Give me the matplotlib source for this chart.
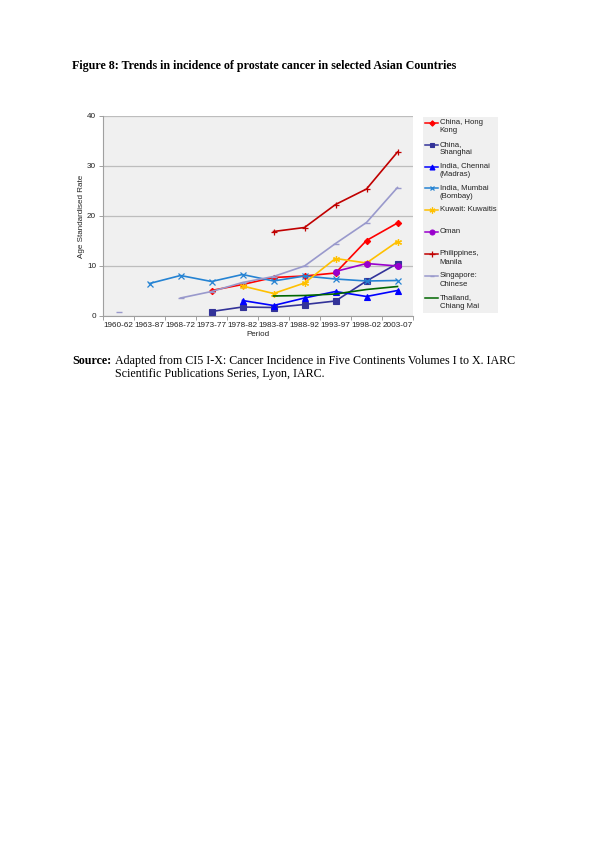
import numpy as np
import matplotlib
matplotlib.use("Agg")
import matplotlib.pyplot as plt
from matplotlib.lines import Line2D
from matplotlib.patches import Rectangle

periods = ["1960-62", "1963-87", "1968-72", "1973-77", "1978-82",
           "1983-87", "1988-92", "1993-97", "1998-02", "2003-07"]
N = np.nan
hong_kong   = [N, N, N, 5.1, 6.3, 7.7, 8.0, 8.6, 15.1, 18.6]
shanghai    = [N, N, N, 0.9, 1.8, 1.7, 2.3, 3.0, 7.0, 10.5]
chennai     = [N, N, N, N, 3.1, 2.1, 3.6, 4.9, 3.9, 5.1]
mumbai      = [N, 6.5, 8.1, 6.9, 8.3, 7.0, 8.0, 7.4, 7.0, 7.1]
kuwait      = [N, N, N, N, 6.0, 4.5, 6.6, 11.5, 10.6, 14.9]
oman        = [N, N, N, N, N, N, N, 8.9, 10.5, 10.0]
manila      = [N, N, N, N, N, 16.9, 17.7, 22.3, 25.4, 32.8]
singapore   = [0.9, N, 3.6, 4.9, 6.7, 7.9, 10.0, 14.5, 18.7, 25.7]
chiang_mai  = [N, N, N, N, N, 4.0, 4.1, 4.4, 5.3, 5.9]

series_labels = ["China, Hong\nKong", "China,\nShanghai", "India, Chennai\n(Madras)",
                 "India, Mumbai\n(Bombay)", "Kuwait: Kuwaitis", "Oman",
                 "Philippines,\nManila", "Singapore:\nChinese", "Thailand,\nChiang Mai"]
series_values = [hong_kong, shanghai, chennai, mumbai, kuwait, oman, manila, singapore, chiang_mai]
styles = [
    dict(color="#FF0000", marker="D", ms=3.2),
    dict(color="#333399", marker="s", ms=4.2),
    dict(color="#0000FF", marker="^", ms=4.2),
    dict(color="#2583D3", marker="x", ms=4.0, mew=0.9),
    dict(color="#FFC000", marker=(6, 2, 0), ms=5.0, mew=0.9),
    dict(color="#9900CC", marker="o", ms=4.2),
    dict(color="#C00000", marker="+", ms=5.0, mew=0.9),
    dict(color="#9999CC", marker="_", ms=4.0, mew=1.0),
    dict(color="#006600", marker=None, ms=0),
]

W, H = 600, 849
fig = plt.figure(figsize=(W / 100, H / 100), dpi=100)
fig.patch.set_facecolor("white")

# main axes in pixel layout
x0, x1, yt, yb = 103, 413, 116, 316
ax = fig.add_axes([x0 / W, 1 - yb / H, (x1 - x0) / W, (yb - yt) / H])
ax.set_facecolor("#F0F0F0")
x = np.arange(len(periods))
for vals, st in zip(series_values, styles):
    ax.plot(x, vals, color=st["color"], lw=1.2, marker=st["marker"],
            ms=st["ms"], mew=st.get("mew", 0.8), mec=st["color"], mfc=st["color"],
            zorder=3)
ax.set_xlim(-0.5, len(periods) - 0.5)
ax.set_ylim(0, 40)
ax.set_yticks([0, 10, 20, 30, 40])
ax.yaxis.grid(True, color="#BDBDBD", lw=0.9)
ax.set_axisbelow(True)
ax.set_xticks(x)
ax.set_xticklabels(periods)
ax.set_xticks(np.arange(len(periods) + 1) - 0.5, minor=True)
ax.tick_params(axis="x", which="major", length=0, labelsize=5.9, pad=4, colors="#222222")
ax.tick_params(axis="x", which="minor", length=3, width=0.7, color="#A0A0A0", direction="out")
ax.tick_params(axis="y", which="major", length=3, width=0.7, color="#A0A0A0", labelsize=5.9,
               pad=2, labelcolor="#222222")
for s in ["top", "right"]:
    ax.spines[s].set_visible(False)
for s in ["left", "bottom"]:
    ax.spines[s].set_color("#A0A0A0")
    ax.spines[s].set_linewidth(0.8)
for lab in ax.get_xticklabels() + ax.get_yticklabels():
    lab.set_fontfamily("Liberation Sans")

# overlay in pixel coordinates for texts and legend
ov = fig.add_axes([0, 0, 1, 1])
ov.set_xlim(0, W)
ov.set_ylim(H, 0)
ov.axis("off")
ov.patch.set_alpha(0)

ov.text(72, 66, "Figure 8: Trends in incidence of prostate cancer in selected Asian Countries",
        fontfamily="Liberation Serif", fontweight="bold", fontsize=8.65, va="center", ha="left")
ov.text(72, 361, "Source:", fontfamily="Liberation Serif", fontweight="bold", fontsize=8.65,
        va="center", ha="left")
ov.text(115, 361, "Adapted from CI5 I-X: Cancer Incidence in Five Continents Volumes I to X. IARC",
        fontfamily="Liberation Serif", fontsize=8.65, va="center", ha="left")
ov.text(115, 374, "Scientific Publications Series, Lyon, IARC.",
        fontfamily="Liberation Serif", fontsize=8.65, va="center", ha="left")

ov.text(81.5, 216, "Age Standardised Rate", rotation=90, fontfamily="Liberation Sans",
        fontsize=5.8, va="center", ha="center", color="#222222")
ov.text(258, 335, "Period", fontfamily="Liberation Sans", fontsize=5.8,
        va="center", ha="center", color="#222222")

# legend
ov.add_patch(Rectangle((423, 117), 75, 196, facecolor="#F0F0F0", edgecolor="none"))
slot0, slot_dy = 122.7, 21.9
for i, (lab, st) in enumerate(zip(series_labels, styles)):
    yy = slot0 + i * slot_dy
    ov.add_line(Line2D([425, 438], [yy, yy], color=st["color"], lw=1.1))
    if st["marker"] is not None:
        ov.add_line(Line2D([431.5], [yy], color=st["color"], marker=st["marker"],
                           ms=st["ms"] * 0.85, mew=st.get("mew", 0.8), mec=st["color"],
                           mfc=st["color"]))
    ov.text(439.5, yy - 4.0, lab, fontfamily="Liberation Sans", fontsize=5.6,
            va="top", ha="left", color="#222222", linespacing=1.35)

fig.savefig("out.png", dpi=100)
